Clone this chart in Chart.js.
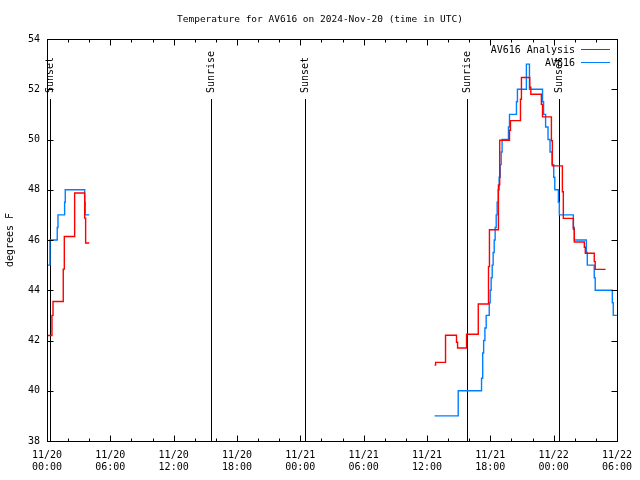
<!DOCTYPE html>
<html>
<head>
<meta charset="utf-8">
<script src="https://cdn.jsdelivr.net/npm/chart.js@4.4.1/dist/chart.umd.min.js"></script>
<style>
  html, body { margin: 0; padding: 0; background: #fff; }
</style>
</head>
<body>
<canvas id="chart" width="640" height="480"></canvas>
<script>
const FONT = '"DejaVu Sans Mono", monospace';
const TITLE = 'Temperature for AV616 on 2024-Nov-20 (time in UTC)';

// x values are hours since 11/20 00:00 UTC
const xTickLabels = [
  ['11/20', '00:00'], ['11/20', '06:00'], ['11/20', '12:00'], ['11/20', '18:00'],
  ['11/21', '00:00'], ['11/21', '06:00'], ['11/21', '12:00'], ['11/21', '18:00'],
  ['11/22', '00:00'], ['11/22', '06:00']
];

const sunHours = [0.24, 15.51, 24.40, 39.75, 48.54];
const sunLabels = ['Sunset', 'Sunrise', 'Sunset', 'Sunrise', 'Sunset'];

// AV616 Analysis (red)
const analysisHours = [
  0.00, 0.47, 0.57, 1.54, 1.64, 2.62, 3.57, 3.66, 4.00,
  20.0,
  36.72, 36.82, 37.76, 38.80, 38.90, 39.75, 40.86, 41.83, 41.92, 42.77,
  42.89, 43.82, 43.91, 44.86, 44.95, 45.74, 45.84, 46.84, 46.95, 47.79,
  47.88, 48.83, 48.92, 49.87, 49.96, 50.91, 51.00, 51.85, 51.94, 52.93
];
const analysisTemps = [
  42.2, 43.0, 43.55, 44.84, 46.14, 47.87, 46.87, 45.88, 45.88,
  null,
  41.02, 41.13, 42.21, 41.93, 41.70, 42.25, 43.45, 44.94, 46.41, 48.19,
  49.97, 50.37, 50.75, 51.60, 52.47, 52.08, 51.80, 51.40, 50.90, 49.95,
  48.95, 47.92, 46.86, 46.43, 45.92, 45.71, 45.47, 45.14, 44.83, 44.83
];

// AV616 observations (blue)
const obsHours = [
  0.00, 0.28, 0.97, 1.04, 1.67, 1.73, 3.57, 3.62, 4.00,
  20.0,
  36.72, 38.96, 41.17, 41.28, 41.37, 41.49, 41.61, 41.90, 41.99, 42.08,
  42.18, 42.27, 42.37, 42.46, 42.56, 42.65, 42.75, 42.84, 42.94, 43.03,
  43.12, 43.72, 43.82, 44.48, 44.57, 45.42, 45.71, 46.95, 47.05, 47.24,
  47.47, 47.66, 47.85, 48.01, 48.11, 48.45, 48.54, 49.87, 49.96, 51.10,
  51.19, 51.85, 51.94, 53.56, 53.65, 54.00
];
const obsTemps = [
  45.0, 46.0, 46.5, 47.0, 47.5, 48.0, 47.5, 47.0, 47.0,
  null,
  39.0, 40.0, 40.5, 41.5, 42.0, 42.5, 43.0, 43.5, 44.0, 44.5,
  45.0, 45.5, 46.0, 46.5, 47.0, 47.5, 48.0, 48.5, 49.0, 49.5,
  50.0, 50.5, 51.0, 51.5, 52.0, 53.0, 52.0, 51.5, 51.0, 50.5,
  50.0, 49.5, 49.0, 48.5, 48.0, 47.5, 47.0, 46.5, 46.0, 45.5,
  45.0, 44.5, 44.0, 43.5, 43.0, 43.0
];

const toPoints = (xs, ys) => xs.map((x, i) => ({ x: x, y: ys[i] }));

const gnuplotFrame = {
  id: 'gnuplotFrame',
  beforeDatasetsDraw(chart) {
    const { ctx, chartArea: a, scales: { x } } = chart;
    ctx.save();
    ctx.strokeStyle = '#000';
    ctx.lineWidth = 1;
    ctx.fillStyle = '#000';
    ctx.font = '10px ' + FONT;
    sunHours.forEach((h, i) => {
      const px = Math.round(x.getPixelForValue(h)) + 0.5;
      ctx.beginPath();
      ctx.moveTo(px, a.top + 60);
      ctx.lineTo(px, a.bottom);
      ctx.stroke();
      ctx.save();
      ctx.translate(px, a.top + 54);
      ctx.rotate(-Math.PI / 2);
      ctx.textAlign = 'left';
      ctx.textBaseline = 'middle';
      ctx.fillText(sunLabels[i], 0, 0);
      ctx.restore();
    });
    ctx.restore();
  },
  afterDatasetsDraw(chart) {
    const { ctx, chartArea: a, scales: { x, y } } = chart;
    ctx.save();
    ctx.strokeStyle = '#000';
    ctx.lineWidth = 1;
    const L = Math.round(a.left) + 0.5, R = Math.round(a.right) + 0.5;
    const T = Math.round(a.top) + 0.5, B = Math.round(a.bottom) + 0.5;
    ctx.strokeRect(L, T, R - L, B - T);
    ctx.beginPath();
    for (let h = 0; h <= 54; h += 2) {
      const px = Math.round(x.getPixelForValue(h)) + 0.5;
      const len = h % 6 === 0 ? 6 : 3;
      ctx.moveTo(px, B); ctx.lineTo(px, B - len);
      ctx.moveTo(px, T); ctx.lineTo(px, T + len);
    }
    for (let v = 38; v <= 54; v += 2) {
      const py = Math.round(y.getPixelForValue(v)) + 0.5;
      ctx.moveTo(L, py); ctx.lineTo(L + 6, py);
      ctx.moveTo(R, py); ctx.lineTo(R - 6, py);
    }
    ctx.stroke();

    // title
    ctx.fillStyle = '#000';
    ctx.font = '9.5px ' + FONT;
    ctx.textAlign = 'center';
    ctx.textBaseline = 'middle';
    ctx.fillText(TITLE, 320, 20);

    // y label
    ctx.font = '10px ' + FONT;
    ctx.save();
    ctx.translate(10, 240);
    ctx.rotate(-Math.PI / 2);
    ctx.fillText('degrees F', 0, 0);
    ctx.restore();

    // legend, gnuplot style: text right aligned, sample on the right
    ctx.textAlign = 'right';
    chart.data.datasets.forEach((ds, i) => {
      const ly = 49 + i * 13;
      ctx.fillStyle = '#000';
      ctx.fillText(ds.label, 575, ly + 1);
      ctx.strokeStyle = ds.borderColor;
      ctx.beginPath();
      ctx.moveTo(581, ly + 0.5);
      ctx.lineTo(610, ly + 0.5);
      ctx.stroke();
    });
    ctx.restore();
  }
};

new Chart(document.getElementById('chart'), {
  type: 'line',
  data: {
    datasets: [
      {
        label: 'AV616 Analysis',
        data: toPoints(analysisHours, analysisTemps),
        borderColor: '#ff0000',
        borderWidth: 1.4,
        stepped: true,
        pointRadius: 0,
        spanGaps: false
      },
      {
        label: 'AV616',
        data: toPoints(obsHours, obsTemps),
        borderColor: '#0080ff',
        borderWidth: 1.4,
        stepped: true,
        pointRadius: 0,
        spanGaps: false
      }
    ]
  },
  options: {
    responsive: false,
    animation: false,
    devicePixelRatio: 1,
    layout: { padding: { top: 39, right: 22, left: 0, bottom: 0 } },
    plugins: {
      legend: { display: false },
      title: { display: false },
      tooltip: { enabled: false }
    },
    scales: {
      x: {
        type: 'linear',
        min: 0,
        max: 54,
        afterFit: s => { s.height = 39; },
        afterBuildTicks: s => { s.ticks = xTickLabels.map((_, i) => ({ value: i * 6 })); },
        ticks: {
          callback: v => xTickLabels[v / 6],
          color: '#000',
          font: { family: FONT, size: 10 },
          padding: 8,
          maxRotation: 0,
          autoSkip: false
        },
        grid: { display: false, drawTicks: false },
        border: { display: false }
      },
      y: {
        min: 38,
        max: 54,
        afterFit: s => { s.width = 47; },
        ticks: {
          stepSize: 2,
          color: '#000',
          font: { family: FONT, size: 10 },
          padding: 7
        },
        grid: { display: false, drawTicks: false },
        border: { display: false }
      }
    }
  },
  plugins: [gnuplotFrame]
});
</script>
</body>
</html>
